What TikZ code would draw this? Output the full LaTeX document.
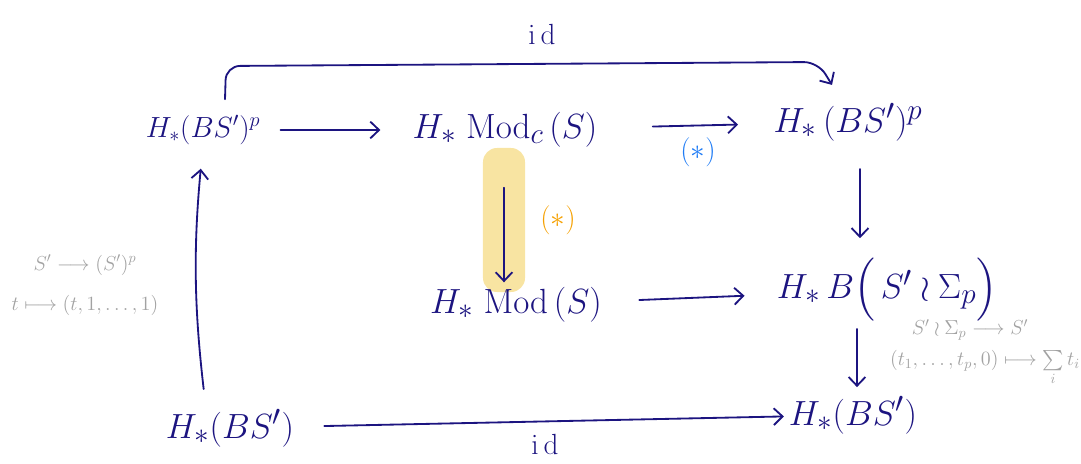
\documentclass[tikz,border=0pt]{standalone}
\usepackage{amsmath}
\usetikzlibrary{arrows.meta,positioning}
\definecolor{ink}{HTML}{1C1480}
\definecolor{starblue}{HTML}{1E7BF5}
\definecolor{starorange}{HTML}{F5A000}
\definecolor{hiyellow}{HTML}{F8E4A2}
\definecolor{notegray}{HTML}{A2A2A2}

\tikzset{
  obj/.style={text=ink,font=\Huge,inner sep=0pt},
  note/.style={text=notegray,font=\Large,inner sep=1pt},
  arr/.style={draw=ink,line width=1.3pt,line cap=round,
    -{Straight Barb[length=2.2mm,width=4.2mm]}}
}

\begin{document}
\begin{tikzpicture}[x=0.025cm,y=-0.025cm]
    \useasboundingbox (0,0) rectangle (1081,464);
    % objects
    \node (hpl) [obj,font=\huge] at (203,130) {$H_*(BS')^p$};
    \node (modc) [obj] at (505,130) {$H_*\;\mathrm{Mod}_c\,(S)$};
    \node (hpr) [obj] at (848,122) {$H_*\,(BS')^p$};
    \node (hl) [fill=hiyellow,rounded corners=10pt,minimum width=1.05cm,minimum height=3.6cm] at (504,220) {};
    \node (mod) [obj] at (516,305) {$H_*\;\mathrm{Mod}\,(S)$};
    \node (wr) [obj] at (887,290) {$H_*\,B\Big(\,S'\wr\Sigma_p\Big)$};
    \node (bsl) [obj] at (230,428) {$H_*(BS')$};
    \node (bsr) [obj] at (853,415) {$H_*(BS')$};
    % arrows
    \draw[arr,shorten <=0.5cm,shorten >=0.8cm] (hpl) -- (modc);
    \draw[arr,shorten <=1.38cm,shorten >=0.88cm] (modc) -- (hpr);
    \node (blue) [text=starblue,font=\huge] at (698,152) {$(*)$};
    \draw[arr,shorten <=1cm,shorten >=0.25cm] (hl.north) -- (hl.south);
    \node (orange) [text=starorange,font=\huge] at (558,220) {$(*)$};
    \draw[arr,shorten <=0.93cm,shorten >=0.8cm] (mod) -- (wr);
    \draw[arr,shorten <=0.75cm,shorten >=0.12cm] (bsl) -- (bsr);
    \node (idb) [text=ink,font=\huge] at (545,444) {$\mathrm{i\,d}$};
    \draw[arr,shorten <=0.7cm,shorten >=0.5cm] ([xshift=0.3cm]hpr.south) -- ([xshift=0.3cm]hpr.south |- wr.north);
    \draw[arr,shorten <=0.18cm,shorten >=0.22cm] ([xshift=-0.75cm]wr.south) -- ([xshift=-0.75cm]wr.south |- bsr.north);
    \draw[arr,shorten <=0.5cm,shorten >=0.6cm] ([xshift=-0.6cm]bsl.north) to[bend left=6] (hpl.south);
    % top id
    \coordinate (topl) at (226,66);
    \coordinate (topr) at (818,62);
    \draw[arr,rounded corners=10pt] ([xshift=0.55cm,yshift=0.4cm]hpl.north) -- (topl) -- (topr) -- ([xshift=-0.4cm,yshift=0.45cm]hpr.north);
    \node (idt) [text=ink,font=\huge] at (542,34) {$\mathrm{i\,d}$};
    % side notes
    \node (lnote1) [note] at (85,265) {$S'\longrightarrow(S')^p$};
    \node (lnote2) [note] at (85,305) {$t\longmapsto(t,1,\dots,1)$};
    \node (rnote1) [note] at (970,330) {$S'\wr\Sigma_p\longrightarrow S'$};
    \node (rnote2) [note] at (985,368) {$(t_1,\dots,t_p,0)\longmapsto\sum\limits_i t_i$};
  \end{tikzpicture}
\end{document}
